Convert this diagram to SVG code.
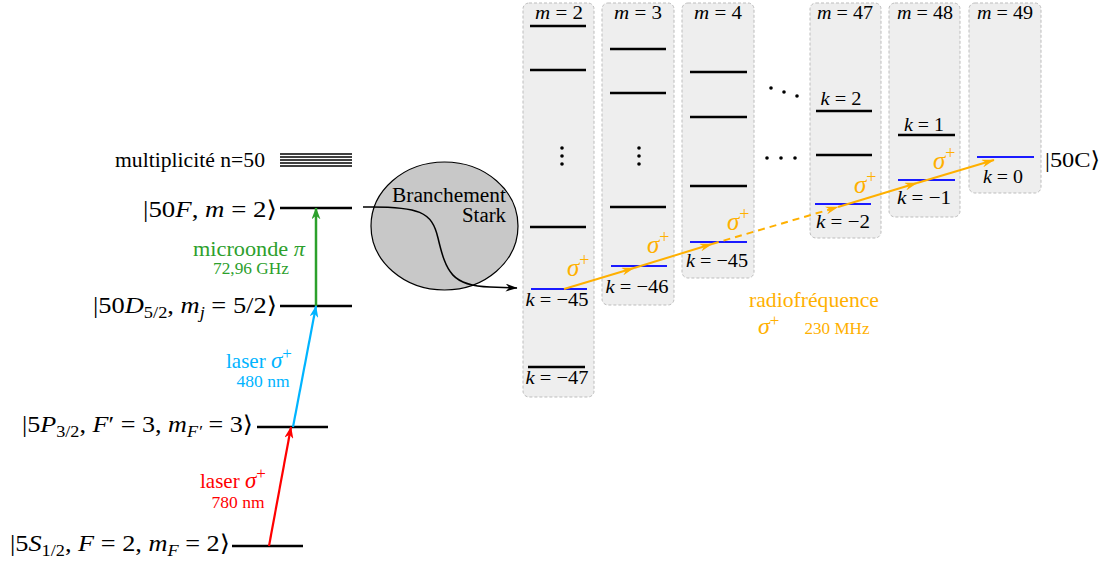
<svg xmlns="http://www.w3.org/2000/svg" width="1112" height="562" viewBox="0 0 1112 562" font-family="Liberation Serif, DejaVu Serif, serif">
<style>
text{font-family:"Liberation Serif","DejaVu Serif",serif;fill:#000}
.lvl{stroke:#000;stroke-width:2.5}
.blu{stroke:#1a1aff;stroke-width:2}
.box{fill:#eeeeee;stroke:#bdbdbd;stroke-width:1;stroke-dasharray:3,2}
.lab{font-size:20px}
.sm{font-size:19px}
.it{font-style:italic}
.or{fill:#ffb000}
.orl{stroke:#ffb000;stroke-width:2;fill:none}
</style>
<defs>
<marker id="ahG" viewBox="0 0 10 10" preserveAspectRatio="none" refX="9.5" refY="5" markerWidth="12" markerHeight="9" markerUnits="userSpaceOnUse" orient="auto"><path d="M0,0 L10,5 L0,10 L3,5 Z" fill="#2ca02c"/></marker>
<marker id="ahC" viewBox="0 0 10 10" preserveAspectRatio="none" refX="9.5" refY="5" markerWidth="12" markerHeight="9" markerUnits="userSpaceOnUse" orient="auto"><path d="M0,0 L10,5 L0,10 L3,5 Z" fill="#00b4ff"/></marker>
<marker id="ahR" viewBox="0 0 10 10" preserveAspectRatio="none" refX="9.5" refY="5" markerWidth="12" markerHeight="9" markerUnits="userSpaceOnUse" orient="auto"><path d="M0,0 L10,5 L0,10 L3,5 Z" fill="#ff0000"/></marker>
<marker id="ahO" viewBox="0 0 10 10" preserveAspectRatio="none" refX="9.5" refY="5" markerWidth="13" markerHeight="8" markerUnits="userSpaceOnUse" orient="auto"><path d="M0,0 L10,5 L0,10 L3,5 Z" fill="#ffb000"/></marker>
<marker id="ahK" viewBox="0 0 10 10" preserveAspectRatio="none" refX="9.5" refY="5" markerWidth="12" markerHeight="8" markerUnits="userSpaceOnUse" orient="auto"><path d="M0,0 L10,5 L0,10 L3,5 Z" fill="#000"/></marker>
</defs>

<!-- left level scheme -->
<g id="multiplicite">
<text class="lab" x="265" y="167" text-anchor="end" textLength="150" lengthAdjust="spacingAndGlyphs">multiplicité n=50</text>
<g stroke="#000" stroke-width="1.6">
<line x1="280" y1="154" x2="352" y2="154"/><line x1="280" y1="157" x2="352" y2="157"/><line x1="280" y1="160" x2="352" y2="160"/><line x1="280" y1="163" x2="352" y2="163"/><line x1="280" y1="166" x2="352" y2="166"/>
</g>
</g>
<g id="level-50F">
<line class="lvl" x1="280" y1="208" x2="352" y2="208"/>
<text x="277" y="217" text-anchor="end" textLength="134" lengthAdjust="spacingAndGlyphs" font-size="23">|50<tspan class="it">F</tspan>, <tspan class="it">m</tspan> = 2⟩</text>
</g>
<g id="level-50D">
<line class="lvl" x1="280" y1="306" x2="352" y2="306"/>
<text x="277" y="313" text-anchor="end" textLength="184" lengthAdjust="spacingAndGlyphs" font-size="23">|50<tspan class="it">D</tspan><tspan font-size="16" dy="5">5/2</tspan><tspan dy="-5">, </tspan><tspan class="it">m</tspan><tspan class="it" font-size="16" dy="5">j</tspan><tspan dy="-5"> = 5/2⟩</tspan></text>
</g>
<g id="level-5P">
<line class="lvl" x1="257" y1="427" x2="328" y2="427"/>
<text x="253" y="432" text-anchor="end" textLength="231" lengthAdjust="spacingAndGlyphs" font-size="23">|5<tspan class="it">P</tspan><tspan font-size="16" dy="5">3/2</tspan><tspan dy="-5">, </tspan><tspan class="it">F</tspan>′ = 3, <tspan class="it">m</tspan><tspan class="it" font-size="16" dy="5">F′</tspan><tspan dy="-5"> = 3⟩</tspan></text>
</g>
<g id="level-5S">
<line class="lvl" x1="232" y1="546" x2="303" y2="546"/>
<text x="230" y="551" text-anchor="end" textLength="220" lengthAdjust="spacingAndGlyphs" font-size="23">|5<tspan class="it">S</tspan><tspan font-size="16" dy="5">1/2</tspan><tspan dy="-5">, </tspan><tspan class="it">F</tspan> = 2, <tspan class="it">m</tspan><tspan class="it" font-size="16" dy="5">F</tspan><tspan dy="-5"> = 2⟩</tspan></text>
</g>

<!-- transition labels -->
<g id="label-microonde">
<text x="305" y="256" text-anchor="end" font-size="22" style="fill:#2ca02c" textLength="112" lengthAdjust="spacingAndGlyphs">microonde <tspan class="it">π</tspan></text>
<text x="251" y="274" text-anchor="middle" font-size="17" style="fill:#2ca02c" textLength="76" lengthAdjust="spacingAndGlyphs">72,96 GHz</text>
</g>
<g id="label-480">
<text x="226" y="368" font-size="21" style="fill:#00b4ff">laser <tspan class="it" font-size="23">σ</tspan><tspan font-size="17" dy="-9">+</tspan></text>
<text x="263" y="387" text-anchor="middle" font-size="16" style="fill:#00b4ff" textLength="53" lengthAdjust="spacingAndGlyphs">480 nm</text>
</g>
<g id="label-780">
<text x="200" y="488" font-size="21" style="fill:#ff0000">laser <tspan class="it" font-size="23">σ</tspan><tspan font-size="17" dy="-9">+</tspan></text>
<text x="238" y="508" text-anchor="middle" font-size="16" style="fill:#ff0000" textLength="53" lengthAdjust="spacingAndGlyphs">780 nm</text>
</g>

<!-- Stark bubble -->
<g id="stark">
<ellipse cx="444.5" cy="226" rx="73.5" ry="64" fill="#c8c8c8" stroke="#000" stroke-width="1.2"/>
<text x="506" y="202" text-anchor="end" font-size="20" textLength="114" lengthAdjust="spacingAndGlyphs">Branchement</text>
<text x="506" y="222" text-anchor="end" font-size="20" textLength="44" lengthAdjust="spacingAndGlyphs">Stark</text>
</g>

<!-- manifold columns -->
<g id="col-m2">
<rect class="box" x="523" y="3" width="71" height="394" rx="6"/>
<text class="sm" x="559" y="19" text-anchor="middle" textLength="48" lengthAdjust="spacingAndGlyphs"><tspan class="it">m</tspan> = 2</text>
<line class="lvl" x1="530" y1="26" x2="586" y2="26"/>
<line class="lvl" x1="530" y1="70" x2="586" y2="70"/>
<circle cx="562" cy="148" r="1.8"/><circle cx="562" cy="156" r="1.8"/><circle cx="562" cy="164" r="1.8"/>
<line class="lvl" x1="530" y1="227" x2="586" y2="227"/>
<line class="blu" x1="531" y1="289" x2="587" y2="289"/>
<text class="sm" x="557" y="306" text-anchor="middle" textLength="63" lengthAdjust="spacingAndGlyphs"><tspan class="it">k</tspan> = −45</text>
<line class="lvl" x1="528" y1="367" x2="585" y2="367"/>
<text class="sm" x="557" y="384" text-anchor="middle" textLength="63" lengthAdjust="spacingAndGlyphs"><tspan class="it">k</tspan> = −47</text>
</g>
<g id="col-m3">
<rect class="box" x="602" y="3" width="72" height="302" rx="6"/>
<text class="sm" x="638" y="19" text-anchor="middle" textLength="48" lengthAdjust="spacingAndGlyphs"><tspan class="it">m</tspan> = 3</text>
<line class="lvl" x1="610" y1="49" x2="666" y2="49"/>
<line class="lvl" x1="610" y1="93" x2="666" y2="93"/>
<circle cx="639" cy="148" r="1.8"/><circle cx="639" cy="156" r="1.8"/><circle cx="639" cy="164" r="1.8"/>
<line class="lvl" x1="610" y1="207" x2="666" y2="207"/>
<line class="blu" x1="611" y1="266" x2="667" y2="266"/>
<text class="sm" x="637" y="293" text-anchor="middle" textLength="63" lengthAdjust="spacingAndGlyphs"><tspan class="it">k</tspan> = −46</text>
</g>
<g id="col-m4">
<rect class="box" x="682" y="3" width="72" height="275" rx="6"/>
<text class="sm" x="718" y="19" text-anchor="middle" textLength="48" lengthAdjust="spacingAndGlyphs"><tspan class="it">m</tspan> = 4</text>
<line class="lvl" x1="690" y1="72" x2="747" y2="72"/>
<line class="lvl" x1="690" y1="117" x2="747" y2="117"/>
<line class="lvl" x1="690" y1="186" x2="747" y2="186"/>
<line class="blu" x1="690" y1="242" x2="747" y2="242"/>
<text class="sm" x="717" y="267" text-anchor="middle" textLength="62" lengthAdjust="spacingAndGlyphs"><tspan class="it">k</tspan> = −45</text>
</g>
<g id="ellipsis">
<circle cx="771" cy="88" r="1.8"/><circle cx="784" cy="92" r="1.8"/><circle cx="797" cy="96" r="1.8"/>
<circle cx="767" cy="158" r="1.8"/><circle cx="781" cy="158" r="1.8"/><circle cx="795" cy="158" r="1.8"/>
</g>
<g id="col-m47">
<rect class="box" x="810" y="3" width="71" height="235" rx="6"/>
<text class="sm" x="845" y="19" text-anchor="middle" textLength="56" lengthAdjust="spacingAndGlyphs"><tspan class="it">m</tspan> = 47</text>
<text class="sm" x="841" y="105" text-anchor="middle" textLength="41" lengthAdjust="spacingAndGlyphs"><tspan class="it">k</tspan> = 2</text>
<line class="lvl" x1="816" y1="111" x2="872" y2="111"/>
<line class="lvl" x1="816" y1="155" x2="872" y2="155"/>
<line class="blu" x1="815" y1="204" x2="871" y2="204"/>
<text class="sm" x="843" y="228" text-anchor="middle" textLength="54" lengthAdjust="spacingAndGlyphs"><tspan class="it">k</tspan> = −2</text>
</g>
<g id="col-m48">
<rect class="box" x="889" y="3" width="71" height="214" rx="6"/>
<text class="sm" x="925" y="19" text-anchor="middle" textLength="56" lengthAdjust="spacingAndGlyphs"><tspan class="it">m</tspan> = 48</text>
<text class="sm" x="924" y="131" text-anchor="middle" textLength="40" lengthAdjust="spacingAndGlyphs"><tspan class="it">k</tspan> = 1</text>
<line class="lvl" x1="898" y1="135" x2="955" y2="135"/>
<line class="blu" x1="898" y1="180" x2="955" y2="180"/>
<text class="sm" x="924" y="204" text-anchor="middle" textLength="54" lengthAdjust="spacingAndGlyphs"><tspan class="it">k</tspan> = −1</text>
</g>
<g id="col-m49">
<rect class="box" x="969" y="3" width="72" height="190" rx="6"/>
<text class="sm" x="1005" y="19" text-anchor="middle" textLength="56" lengthAdjust="spacingAndGlyphs"><tspan class="it">m</tspan> = 49</text>
<line class="blu" x1="977" y1="157" x2="1034" y2="157"/>
<text class="sm" x="1003" y="183" text-anchor="middle" textLength="40" lengthAdjust="spacingAndGlyphs"><tspan class="it">k</tspan> = 0</text>
</g>
<g id="label-50C">
<text x="1045" y="167" font-size="22" textLength="55" lengthAdjust="spacingAndGlyphs">|50C⟩</text>
</g>

<!-- RF labels -->
<g id="label-rf">
<text x="814" y="307" text-anchor="middle" font-size="21" class="or" textLength="130" lengthAdjust="spacingAndGlyphs">radiofréquence</text>
<text x="758" y="334" font-size="24" class="or"><tspan class="it">σ</tspan><tspan font-size="17" dy="-8">+</tspan></text>
<text x="837" y="334" text-anchor="middle" font-size="17" class="or" textLength="65" lengthAdjust="spacingAndGlyphs">230 MHz</text>
</g>
<g id="sigma-labels" font-size="25">
<text x="567" y="276" class="or"><tspan class="it">σ</tspan><tspan font-size="18" dy="-10">+</tspan></text>
<text x="647" y="253" class="or"><tspan class="it">σ</tspan><tspan font-size="18" dy="-10">+</tspan></text>
<text x="727" y="230" class="or"><tspan class="it">σ</tspan><tspan font-size="18" dy="-10">+</tspan></text>
<text x="854" y="193" class="or"><tspan class="it">σ</tspan><tspan font-size="18" dy="-10">+</tspan></text>
<text x="933" y="169" class="or"><tspan class="it">σ</tspan><tspan font-size="18" dy="-10">+</tspan></text>
</g>

<!-- connectors -->
<g id="connectors">
<line x1="316" y1="306" x2="316" y2="208" stroke="#2ca02c" stroke-width="2.5" marker-end="url(#ahG)"/>
<line x1="293" y1="427" x2="316" y2="306" stroke="#00b4ff" stroke-width="2.2" marker-end="url(#ahC)"/>
<line x1="269" y1="546" x2="291" y2="427" stroke="#ff0000" stroke-width="2.2" marker-end="url(#ahR)"/>
<path d="M363,207 C420,206 432,212 438,238 C446,272 452,286 490,287 L517,288" fill="none" stroke="#000" stroke-width="1.5" marker-end="url(#ahK)"/>
<path class="orl" d="M564,289 L634,268" marker-end="url(#ahO)"/>
<path class="orl" d="M634,268 L712,244" marker-end="url(#ahO)"/>
<path class="orl" d="M712,244 L838,207" stroke-dasharray="7,5" marker-end="url(#ahO)"/>
<path class="orl" d="M838,207 L917,183" marker-end="url(#ahO)"/>
<path class="orl" d="M917,183 L994,160" marker-end="url(#ahO)"/>
</g>
</svg>
